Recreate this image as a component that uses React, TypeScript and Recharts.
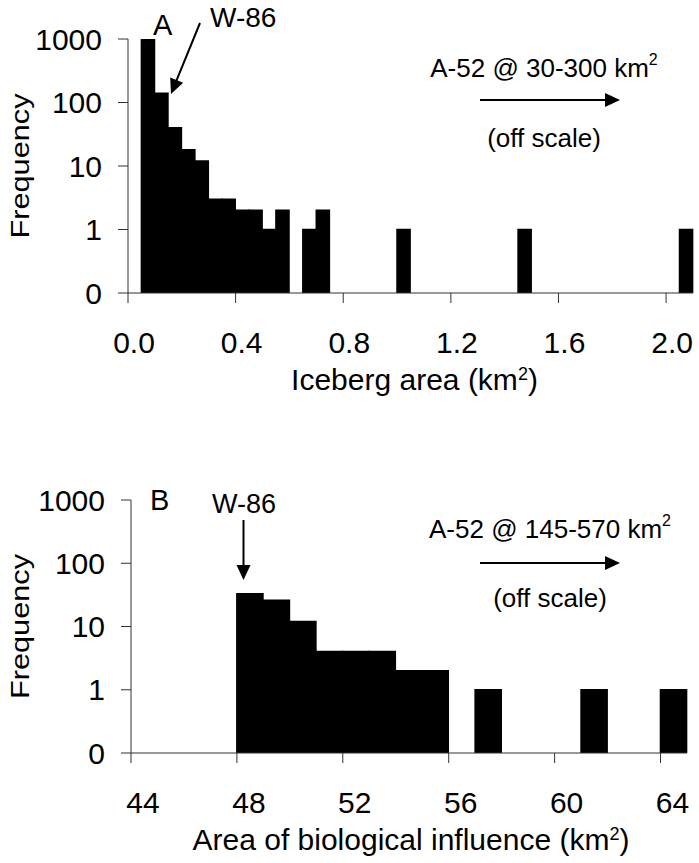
import React from "react";
import { BarChart, Bar, XAxis, YAxis, Label } from "recharts";

const FONT = "'Liberation Sans', Arial, Helvetica, sans-serif";

// A: iceberg area histogram (bin midpoints in km2, counts)
const icebergBins = [0.075, 0.125, 0.175, 0.225, 0.275, 0.325, 0.375, 0.425, 0.475, 0.525, 0.575, 0.675, 0.725, 1.025, 1.475, 2.075];
const icebergCounts = [1000, 140, 40, 18, 12, 3, 3, 2, 2, 1, 2, 1, 2, 1, 1, 1];
const icebergTicks = [0, 0.4, 0.8, 1.2, 1.6, 2.0];

// B: area of biological influence histogram
const influenceBins = [48.5, 49.5, 50.5, 51.5, 52.5, 53.5, 54.5, 55.5, 57.5, 61.5, 64.5];
const influenceCounts = [33, 26, 12, 4, 4, 4, 2, 2, 1, 1, 1];
const influenceTicks = [44, 48, 52, 56, 60, 64];

// 0.1 stands in for the "0" row of the log axis
const freqTicks = [0.1, 1, 10, 100, 1000];

const icebergData = icebergBins.map((x, i) => ({ x, n: icebergCounts[i] }));
const influenceData = influenceBins.map((x, i) => ({ x, n: influenceCounts[i] }));

const fmtFreq = (v: number) => (v < 1 ? "0" : String(v));

function makeXTick(dx: number, fmt: (v: number) => string) {
  return (props: any) => {
    const { x, y, payload } = props;
    return (
      <text x={x + dx} y={y + 48} textAnchor="middle" fontSize={30} fontFamily={FONT} fill="#000">
        {fmt(payload.value)}
      </text>
    );
  };
}

function makeXTitle(text: string, dx: number) {
  return (props: any) => {
    const vb = props.viewBox;
    return (
      <text x={vb.x + vb.width / 2 + dx} y={vb.y + 97} textAnchor="middle" fontSize={30} fontFamily={FONT} fill="#000">
        {text} (km<tspan dy={-10} fontSize={18}>2</tspan>
        <tspan dy={10}>)</tspan>
      </text>
    );
  };
}

const freqTitle = (props: any) => {
  const vb = props.viewBox;
  const cy = vb.y + vb.height / 2;
  return (
    <text
      x={29}
      y={cy}
      transform={`rotate(-90, 29, ${cy})`}
      textAnchor="middle"
      fontSize={26}
      textLength={145}
      lengthAdjust="spacingAndGlyphs"
      fontFamily={FONT}
      fill="#000"
    >
      Frequency
    </text>
  );
};

function Panel({ data, domain, ticks, tickDx, fmt, title, titleDx, height, marginTop, marginRight, yWidth, xHeight }: any) {
  return (
    <BarChart
      width={699}
      height={height}
      data={data}
      margin={{ top: marginTop, right: marginRight, bottom: 0, left: 0 }}
      barCategoryGap={0}
      barGap={0}
    >
      <XAxis
        dataKey="x"
        type="number"
        domain={domain}
        ticks={ticks}
        interval={0}
        height={xHeight}
        tickSize={10}
        stroke="#333"
        tick={makeXTick(tickDx, fmt)}
      >
        <Label content={makeXTitle(title, titleDx)} />
      </XAxis>
      <YAxis
        type="number"
        scale="log"
        domain={[0.1, 1000]}
        allowDataOverflow
        ticks={freqTicks}
        interval={0}
        width={yWidth}
        tickSize={10}
        tickMargin={16}
        stroke="#333"
        tickFormatter={fmtFreq}
        tick={{ fontSize: 30, fill: "#000", fontFamily: FONT }}
      >
        <Label content={freqTitle} />
      </YAxis>
      {/* stroke closes the sub-pixel seams between adjacent bins */}
      <Bar dataKey="n" fill="#000" stroke="#000" strokeWidth={1.6} isAnimationActive={false} />
    </BarChart>
  );
}

function Arrow({ x1, y1, x2, y2 }: any) {
  // line with a filled head at (x2, y2)
  const len = Math.hypot(x2 - x1, y2 - y1);
  const ux = (x2 - x1) / len;
  const uy = (y2 - y1) / len;
  const bx = x2 - ux * 15;
  const by = y2 - uy * 15;
  const px = -uy * 7;
  const py = ux * 7;
  return (
    <g>
      <line x1={x1} y1={y1} x2={bx + ux * 2} y2={by + uy * 2} stroke="#000" strokeWidth={2} />
      <polygon points={`${x2},${y2} ${bx + px},${by + py} ${bx - px},${by - py}`} fill="#000" />
    </g>
  );
}

export default function App() {
  const txt = { fontFamily: FONT, fill: "#000" };
  return (
    <div style={{ position: "absolute", left: 0, top: 0, width: 699, height: 863, background: "#fff" }}>
      <div style={{ position: "absolute", left: 0, top: 0 }}>
        <Panel
          data={icebergData}
          domain={[0, 2.1]}
          ticks={icebergTicks}
          tickDx={6}
          fmt={(v: number) => v.toFixed(1)}
          title="Iceberg area"
          titleDx={4}
          height={400}
          marginTop={39}
          marginRight={6}
          yWidth={128}
          xHeight={107}
        />
      </div>
      <div style={{ position: "absolute", left: 0, top: 430 }}>
        <Panel
          data={influenceData}
          domain={[44, 65]}
          ticks={influenceTicks}
          tickDx={12}
          fmt={(v: number) => String(v)}
          title="Area of biological influence"
          titleDx={2}
          height={433}
          marginTop={70}
          marginRight={12}
          yWidth={131}
          xHeight={110}
        />
      </div>
      <svg width={699} height={863} style={{ position: "absolute", left: 0, top: 0, pointerEvents: "none" }}>
        {/* panel A notes */}
        <text x={153} y={35} fontSize={29} {...txt}>A</text>
        <text x={210} y={27} fontSize={28} {...txt}>W-86</text>
        <Arrow x1={200} y1={23} x2={171} y2={94} />
        <text x={544} y={77} fontSize={26} textAnchor="middle" {...txt}>
          A-52 @ 30-300 km<tspan dy={-12} fontSize={16}>2</tspan>
        </text>
        <Arrow x1={480} y1={100} x2={620} y2={100} />
        <text x={544} y={147} fontSize={26} textAnchor="middle" {...txt}>(off scale)</text>

        {/* panel B notes */}
        <text x={150} y={510} fontSize={29} {...txt}>B</text>
        <text x={212} y={513} fontSize={27} {...txt}>W-86</text>
        <Arrow x1={243.5} y1={520} x2={243.5} y2={580} />
        <text x={550} y={538} fontSize={26} textAnchor="middle" {...txt}>
          A-52 @ 145-570 km<tspan dy={-12} fontSize={16}>2</tspan>
        </text>
        <Arrow x1={480} y1={563} x2={620} y2={563} />
        <text x={550} y={607} fontSize={26} textAnchor="middle" {...txt}>(off scale)</text>
      </svg>
    </div>
  );
}
